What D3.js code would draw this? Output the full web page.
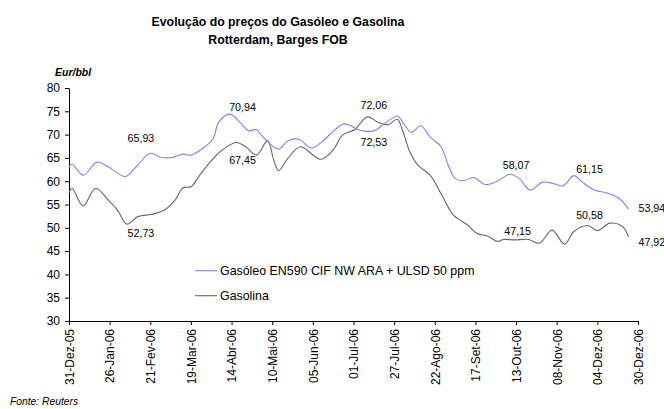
<!DOCTYPE html>
<html><head><meta charset="utf-8">
<script src="https://cdn.jsdelivr.net/npm/d3@7"></script>
<style>
body{margin:0;background:#fff}
svg{display:block}
text{font-family:"Liberation Sans",Arial,sans-serif;fill:#000}
</style>
</head><body>
<svg id="c" width="664" height="409"></svg>
<script>
// ---------------- DATA ----------------
const titleLines = ["Evolução do preços do Gasóleo e Gasolina", "Rotterdam, Barges FOB"];
const unitLabel = "Eur/bbl";
const sourceLabel = "Fonte: Reuters";
const seriesNames = ["Gasóleo EN590 CIF NW ARA + ULSD 50 ppm", "Gasolina"];

const gasoleoDates = ["2005-12-31","2006-01-02","2006-01-09","2006-01-18","2006-01-25","2006-02-05","2006-02-12","2006-02-21","2006-02-28","2006-03-07","2006-03-14","2006-03-19","2006-03-28","2006-04-02","2006-04-06","2006-04-13","2006-04-20","2006-04-25","2006-04-30","2006-05-03","2006-05-14","2006-05-20","2006-05-27","2006-06-04","2006-06-11","2006-06-19","2006-06-25","2006-07-04","2006-07-07","2006-07-14","2006-07-20","2006-07-29","2006-08-02","2006-08-07","2006-08-13","2006-08-19","2006-08-26","2006-08-31","2006-09-04","2006-09-09","2006-09-16","2006-09-23","2006-10-01","2006-10-09","2006-10-15","2006-10-22","2006-10-30","2006-11-06","2006-11-12","2006-11-19","2006-11-24","2006-12-02","2006-12-10","2006-12-18","2006-12-24"];
const gasoleoValues = [63.0,63.7,61.3,64.1,63.1,61.0,63.1,66.0,65.1,65.1,65.8,65.6,67.4,69.0,72.8,74.4,72.4,70.8,71.1,69.9,66.9,68.7,69.0,67.1,68.5,71.0,72.3,71.1,70.8,70.8,72.1,74.0,72.4,70.5,71.9,69.5,67.4,63.1,60.6,60.1,60.8,59.3,60.0,61.5,60.6,58.1,59.8,59.5,59.0,61.2,59.9,58.1,57.5,56.3,54.0];

const gasolinaDates = ["2005-12-31","2006-01-02","2006-01-09","2006-01-17","2006-01-25","2006-01-31","2006-02-06","2006-02-13","2006-02-22","2006-03-02","2006-03-09","2006-03-14","2006-03-19","2006-03-24","2006-03-31","2006-04-08","2006-04-17","2006-04-23","2006-04-30","2006-05-07","2006-05-11","2006-05-14","2006-05-20","2006-05-28","2006-06-10","2006-06-18","2006-06-24","2006-07-02","2006-07-05","2006-07-10","2006-07-17","2006-07-23","2006-07-29","2006-08-02","2006-08-06","2006-08-11","2006-08-19","2006-08-27","2006-09-03","2006-09-12","2006-09-18","2006-09-25","2006-10-01","2006-10-05","2006-10-12","2006-10-21","2006-10-28","2006-11-05","2006-11-13","2006-11-19","2006-11-28","2006-12-04","2006-12-12","2006-12-20","2006-12-24"];
const gasolinaValues = [57.5,58.5,54.7,58.5,56.0,53.8,50.8,52.4,52.9,53.8,56.0,58.6,58.8,61.0,64.0,66.7,68.3,67.4,65.6,68.7,64.5,62.3,64.9,67.4,64.7,66.7,69.9,71.1,72.3,73.8,72.6,72.1,73.3,70.3,66.3,63.5,61.3,56.7,52.7,50.6,48.8,48.2,47.1,47.5,47.4,47.5,46.7,49.5,46.5,49.2,50.5,49.4,51.0,50.3,48.0];

const tickDates = ["2005-12-31","2006-01-26","2006-02-21","2006-03-19","2006-04-14","2006-05-10","2006-06-05","2006-07-01","2006-07-27","2006-08-22","2006-09-17","2006-10-13","2006-11-08","2006-12-04","2006-12-30"];
const tickLabels = ["31-Dez-05","26-Jan-06","21-Fev-06","19-Mar-06","14-Abr-06","10-Mai-06","05-Jun-06","01-Jul-06","27-Jul-06","22-Ago-06","17-Set-06","13-Out-06","08-Nov-06","04-Dez-06","30-Dez-06"];
const yTicks = [30,35,40,45,50,55,60,65,70,75,80];

// annotation labels (text, anchor date, anchor value, anchor side)
const annotationTexts  = ["65,93","52,73","70,94","67,45","72,06","72,53","58,07","47,15","61,15","50,58","53,94","47,92"];
const annotationDates  = ["2006-02-15","2006-02-15","2006-04-21","2006-04-21","2006-07-14","2006-07-14","2006-10-13","2006-10-14","2006-11-29","2006-11-29","2006-12-30","2006-12-30"];
const annotationValues = [68.5,48.1,75.05,63.7,75.4,67.55,62.7,48.55,61.75,51.8,53.3,46.1];
const annotationAnchor = ["middle","middle","middle","middle","middle","middle","middle","middle","middle","middle","start","start"];

// ---------------- CHART ----------------
const parse = d3.timeParse("%Y-%m-%d");
const svg = d3.select("#c");
svg.append("rect").attr("width",664).attr("height",409).attr("fill","#fff");

const x = d3.scaleTime().domain([parse("2005-12-31"), parse("2006-12-30")]).range([69, 638]);
const y = d3.scaleLinear().domain([30, 80]).range([321, 88]);

// title
svg.append("text").attr("x",278).attr("y",26).attr("text-anchor","middle")
  .style("font-size","12.3px").style("font-weight","bold").text(titleLines[0]);
svg.append("text").attr("x",278).attr("y",44).attr("text-anchor","middle")
  .style("font-size","12.3px").style("font-weight","bold").text(titleLines[1]);

// unit
svg.append("text").attr("x",55).attr("y",76).style("font-size","10.5px")
  .style("font-weight","bold").style("font-style","italic").text(unitLabel);

// y axis
const yAxis = svg.append("g").attr("transform","translate(69,0)")
  .call(d3.axisLeft(y).tickValues(yTicks).tickSize(4).tickSizeOuter(0).tickPadding(5));
yAxis.selectAll("text").style("font-size","12px").attr("fill","#000");
yAxis.selectAll("line,path").attr("stroke","#000");

// x axis
const xAxis = svg.append("g").attr("transform","translate(0,321)")
  .call(d3.axisBottom(x).tickValues(tickDates.map(parse)).tickFormat((d,i)=>tickLabels[i]).tickSize(4).tickSizeOuter(0));
xAxis.selectAll("line,path").attr("stroke","#000");
xAxis.selectAll("text")
  .attr("transform","rotate(-90)")
  .attr("x",-8).attr("y",0).attr("dy","0.36em")
  .attr("text-anchor","end")
  .style("font-size","12px").attr("fill","#000");

// lines
const line = d3.line().x(d=>x(d[0])).y(d=>y(d[1])).curve(d3.curveCatmullRom.alpha(0.5));
const gasoleo = gasoleoDates.map((d,i)=>[parse(d), gasoleoValues[i]]);
const gasolina = gasolinaDates.map((d,i)=>[parse(d), gasolinaValues[i]]);
const colors = ["#8080ff", "#666666"];

svg.append("path").datum(gasolina).attr("d",line).attr("fill","none")
  .attr("stroke",colors[1]).attr("stroke-width",1.1);
svg.append("path").datum(gasoleo).attr("d",line).attr("fill","none")
  .attr("stroke",colors[0]).attr("stroke-width",1.1);

// annotations
annotationTexts.forEach((t,i)=>{
  svg.append("text").attr("x",x(parse(annotationDates[i])) + (annotationAnchor[i]==="start"?0.5:0))
    .attr("y",y(annotationValues[i]))
    .attr("text-anchor",annotationAnchor[i])
    .style("font-size","10.7px").text(t);
});

// legend
const legendY = [270.7, 295.7];
seriesNames.forEach((n,i)=>{
  svg.append("line").attr("x1",195).attr("x2",217).attr("y1",legendY[i]).attr("y2",legendY[i])
    .attr("stroke",colors[i]).attr("stroke-width",1.1);
  svg.append("text").attr("x",220).attr("y",legendY[i]+3.8).style("font-size","12.4px").text(n);
});

// source
svg.append("text").attr("x",10).attr("y",405).style("font-size","10.3px")
  .style("font-style","italic").text(sourceLabel);
</script>
</body></html>
